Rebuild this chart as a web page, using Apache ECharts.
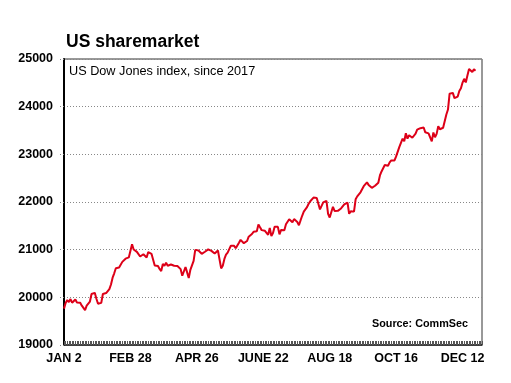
<!DOCTYPE html>
<html>
<head>
<meta charset="utf-8">
<script src="https://cdn.jsdelivr.net/npm/echarts@6/dist/echarts.min.js"></script>
<style>
html,body{margin:0;padding:0;background:#fff;}
#chart{width:511px;height:383px;}
</style>
</head>
<body>
<div id="chart"></div>
<script>
// Dow Jones daily closes, weekdays (holidays repeat prior close), 2017
const jan = [19763,19881,19942,19899,19964,19887,19855,19954,19891,19885,19885,19826,19804,19732,19827,19799,19912,20069,20100,20094,19971,19864];
const feb = [19891,19884,20071,20052,20090,20054,20172,20269,20413,20504,20611,20620,20624,20624,20744,20776,20811,20822,20837,20812];
const mar = [21115,21003,21006,20954,20925,20856,20858,20903,20881,20837,20950,20934,20914,20906,20668,20661,20656,20597,20550,20701,20659,20729,20663];
const apr = [20650,20689,20648,20662,20656,20658,20651,20591,20453,20453,20636,20523,20404,20578,20548,20763,20996,20975,20981,20941];
const may = [20913,20950,20957,20951,21007,21013,20975,20943,20919,20897,20982,20980,20607,20663,20805,20895,20937,21012,21083,21080,21080,21029,21009];
const jun = [21144,21206,21184,21136,21173,21182,21272,21236,21329,21375,21360,21384,21529,21468,21410,21397,21395,21409,21311,21455,21288,21350];
const jul = [21479,21479,21479,21320,21414,21408,21409,21532,21553,21638,21630,21575,21641,21612,21580,21513,21613,21711,21797,21830,21891];
const aug = [21964,22016,22026,22092,22118,22085,22048,21844,21858,21993,21998,22025,21750,21675,21703,21899,21813,21784,21814,21808,21865,21892,21948];
const sep = [21988,21988,21753,21808,21785,21798,22057,22118,22158,22203,22268,22332,22370,22412,22359,22350,22297,22284,22341,22381,22405];
const oct = [22557,22641,22662,22775,22774,22761,22831,22873,22841,22871,22957,22997,23157,23163,23329,23274,23441,23329,23400,23434,23348,23377];
const nov = [23436,23517,23539,23548,23557,23563,23462,23422,23440,23410,23271,23458,23358,23430,23591,23526,23526,23558,23580,23836,23940,24272];
const dec = [24231,24290,24180,24140,24212,24329,24387,24505,24585,24509,24652,24792,24754,24726,24782,24754];

const xTickLabels = ["JAN 2","FEB 28","APR 26","JUNE 22","AUG 18","OCT 16","DEC 12"];
const labelEvery = 41; // weekdays between labelled dates
const yMin = 19000, yMax = 25000, yStep = 1000;

const values = [].concat(jan,feb,mar,apr,may,jun,jul,aug,sep,oct,nov,dec);

// weekday categories Jan 2 2017 .. Dec 28 2017 (axis runs slightly past data)
const dates = [];
{
  const d = new Date(Date.UTC(2017,0,2));
  const end = new Date(Date.UTC(2017,11,28));
  while (d <= end) {
    const wd = d.getUTCDay();
    if (wd !== 0 && wd !== 6) dates.push(d.toISOString().slice(0,10));
    d.setUTCDate(d.getUTCDate()+1);
  }
}

const FONT = '"Liberation Sans", Arial, sans-serif';
const chart = echarts.init(document.getElementById('chart'), null, {renderer:'canvas'});
chart.setOption({
  animation:false,
  backgroundColor:'#fff',
  grid:{left:64,right:29,top:59,bottom:38,show:true,borderColor:'#333',borderWidth:1,backgroundColor:'transparent'},
  xAxis:{
    type:'category',
    data:dates,
    boundaryGap:false,
    axisLine:{show:true,onZero:false,lineStyle:{color:'#222',width:1.5}},
    axisTick:{show:true,inside:true,length:4,interval:0,lineStyle:{color:'#555',width:1}},
    axisLabel:{
      interval:function(i){return i % labelEvery === 0;},
      formatter:function(v,i){return xTickLabels[Math.round(i/labelEvery)] || '';},
      fontFamily:FONT,fontWeight:'bold',fontSize:12.5,color:'#000',margin:7
    },
    splitLine:{show:false}
  },
  yAxis:{
    type:'value',min:yMin,max:yMax,interval:yStep,
    axisLine:{show:true,lineStyle:{color:'#000',width:2}},
    axisTick:{show:true,length:5,lineStyle:{color:'#888',type:[1,2]}},
    axisLabel:{fontFamily:FONT,fontWeight:'bold',fontSize:12.5,color:'#000',margin:11,
      formatter:function(v){return String(v);}},
    splitLine:{show:true,lineStyle:{color:'#888',width:1,type:[1,2]}}
  },
  series:[{
    type:'line',data:values,showSymbol:false,
    lineStyle:{color:'#dd0018',width:2},
    itemStyle:{color:'#dd0018'}
  }],
  graphic:[
    {type:'text',left:66,top:33,style:{text:'US sharemarket',font:'bold 17.5px '+FONT,fill:'#000'}},
    {type:'text',left:69,top:65,style:{text:'US Dow Jones index, since 2017',font:'12.7px '+FONT,fill:'#000'}},
    {type:'text',left:372,top:319,style:{text:'Source: CommSec',font:'bold 10.8px '+FONT,fill:'#000'}}
  ]
});
</script>
</body>
</html>
